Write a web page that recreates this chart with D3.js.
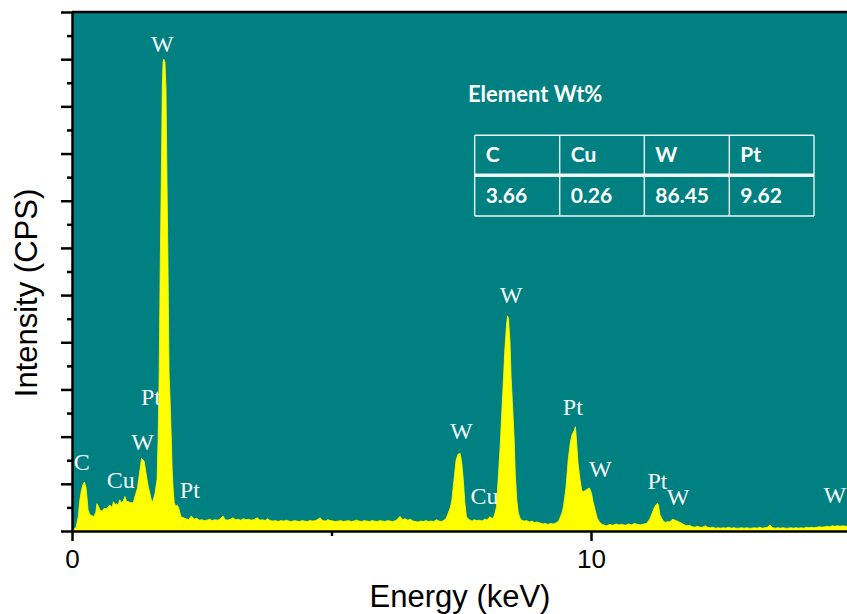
<!DOCTYPE html>
<html>
<head>
<meta charset="utf-8">
<script src="https://cdn.jsdelivr.net/npm/d3@7"></script>
<style>
  body { margin: 0; background: #fff; }
  svg { display: block; }
</style>
</head>
<body>
<svg id="canvas" width="847" height="614"></svg>
<script>
// EDS spectrum, energy (keV) vs counts
let spectrum = [
  [0.00,0],[0.03,3],[0.08,8],[0.12,30],[0.15,65],[0.18,85],[0.21,98],[0.24,104],[0.27,92],[0.29,70],
  [0.31,45],[0.34,35],[0.38,33],[0.42,30],[0.46,40],[0.48,58],[0.51,52],[0.54,44],[0.58,42],[0.62,48],
  [0.67,47],[0.70,52],[0.73,55],[0.77,50],[0.80,62],[0.83,56],[0.86,58],[0.89,55],[0.92,66],[0.95,60],
  [0.99,64],[1.02,73],[1.05,63],[1.09,62],[1.13,60],[1.18,60],[1.21,72],[1.26,90],[1.31,130],[1.34,154],
  [1.39,148],[1.43,120],[1.47,94],[1.52,70],[1.55,60],[1.60,80],[1.64,110],[1.66,200],[1.68,335],[1.70,560],
  [1.72,744],[1.74,941],[1.755,994],[1.77,1000],[1.79,994],[1.81,941],[1.83,744],[1.85,560],[1.87,335],[1.89,278],
  [1.91,208],[1.93,130],[1.95,87],[1.97,60],[2.00,52],[2.03,55],[2.06,47],[2.10,30],[2.15,28],[2.20,26],
  [2.25,24],[2.30,32],[2.35,25],[2.40,27],[2.45,23],[2.50,24],[2.55,22],[2.60,23],[2.65,25],[2.70,22],
  [2.75,24],[2.80,23],[2.85,25],[2.91,32],[2.95,24],[3.00,23],[3.05,25],[3.10,28],[3.15,24],[3.20,25],
  [3.25,23],[3.30,26],[3.35,24],[3.40,25],[3.45,23],[3.50,24],[3.57,28],[3.62,23],[3.67,24],[3.72,22],
  [3.77,26],[3.82,22],[3.87,21],[3.92,22],[3.97,20],[4.02,22],[4.08,21],[4.13,23],[4.18,21],[4.23,20],
  [4.28,22],[4.33,21],[4.38,20],[4.43,22],[4.48,21],[4.53,20],[4.58,22],[4.63,21],[4.70,22],[4.78,28],
  [4.83,22],[4.88,21],[4.93,24],[4.98,22],[5.03,21],[5.08,20],[5.13,21],[5.18,22],[5.23,20],[5.28,21],
  [5.33,22],[5.38,20],[5.43,21],[5.48,23],[5.53,21],[5.58,20],[5.63,22],[5.68,21],[5.73,20],[5.78,22],
  [5.83,21],[5.88,20],[5.93,22],[5.98,21],[6.03,20],[6.08,22],[6.13,21],[6.18,20],[6.25,23],[6.32,31],
  [6.37,24],[6.42,26],[6.47,23],[6.52,25],[6.57,21],[6.62,20],[6.67,19],[6.72,21],[6.77,20],[6.82,22],
  [6.87,20],[6.92,21],[6.97,20],[7.02,24],[7.07,21],[7.12,20],[7.17,23],[7.21,27],
  [7.25,38],[7.29,50],[7.32,66],[7.36,108],[7.40,150],[7.44,163],[7.48,164],[7.51,144],[7.54,108],[7.57,59],
  [7.60,30],[7.64,25],[7.67,23],[7.71,21],[7.75,24],[7.80,22],[7.85,23],[7.90,21],[7.95,25],[8.00,24],
  [8.05,30],[8.09,27],[8.12,28],[8.15,38],[8.18,52],[8.21,108],[8.25,179],[8.28,250],[8.31,314],[8.34,384],
  [8.37,433],[8.39,456],[8.41,452],[8.44,398],[8.46,327],[8.49,263],[8.52,193],[8.54,123],[8.57,66],[8.60,38],
  [8.63,28],[8.66,23],[8.71,21],[8.76,22],[8.81,19],[8.86,21],[8.91,18],[8.96,19],[9.02,17],
  [9.07,15],[9.12,16],[9.17,14],[9.22,16],[9.27,15],[9.32,17],[9.37,20],[9.40,27],[9.44,38],[9.47,52],
  [9.52,94],[9.56,150],[9.60,186],[9.63,203],[9.68,214],[9.70,221],[9.72,193],[9.75,144],[9.79,108],[9.82,87],
  [9.85,83],[9.89,86],[9.92,88],[9.97,91],[10.01,80],[10.04,62],[10.08,44],[10.12,27],[10.17,18],[10.22,14],
  [10.30,11],[10.36,14],[10.42,12],[10.48,15],[10.54,13],[10.60,14],[10.66,12],[10.72,15],[10.78,13],[10.84,16],
  [10.90,14],[10.95,13],[11.02,15],[11.07,16],[11.10,20],[11.14,27],[11.19,41],[11.23,52],[11.28,59],[11.30,55],
  [11.33,34],[11.38,23],[11.43,18],[11.48,20],[11.52,19],[11.57,25],[11.62,23],[11.68,20],[11.75,16],[11.84,11],
  [11.90,12],[11.95,9],[12.00,8],[12.05,10],[12.10,8],[12.15,8],[12.20,11],[12.25,8],[12.30,7],[12.35,8],
  [12.40,6],[12.45,7],[12.50,6],[12.55,7],[12.60,6],[12.65,8],[12.70,6],[12.75,7],[12.80,6],[12.85,6],
  [12.90,7],[12.95,6],[13.00,7],[13.05,6],[13.10,6],[13.15,7],[13.20,6],[13.25,8],[13.30,6],[13.35,7],
  [13.40,8],[13.45,13],[13.50,7],[13.55,6],[13.60,7],[13.65,6],[13.70,7],[13.75,6],[13.80,6],[13.85,7],
  [13.90,6],[13.95,7],[14.00,6],[14.05,7],[14.10,6],[14.15,8],[14.20,7],[14.25,8],[14.30,7],[14.35,8],
  [14.40,9],[14.45,8],[14.50,9],[14.55,10],[14.60,9],[14.65,11],[14.70,10],[14.75,11],[14.80,10],[14.85,11],
  [14.90,10],[14.95,11],[15.00,10]
]

// peak labels: text, energy (keV), counts where the label sits
let peakLabels = [
  ["C",0.19,129],["Cu",0.94,91],["W",1.36,172],["Pt",1.52,267],["W",1.74,1015],["Pt",2.27,70],
  ["W",7.50,194],["Cu",7.95,57],["W",8.46,483],["Pt",9.65,246],["W",10.18,115],
  ["Pt",11.28,90],["W",11.68,55],["W",14.70,59]
]

let tableElements = ["C","Cu","W","Pt"]
let tableWtPercent = ["3.66","0.26","86.45","9.62"]
let tableTitle = "Element Wt%"

let xMajorTicks = [0,10]
let xMinorTicks = [5]
let yMajorTicks = [0,100,200,300,400,500,600,700,800,900,1000,1100]
let yMinorTicks = [50,150,250,350,450,550,650,750,850,950,1050]

let svg = d3.select('#canvas')

let plotLeft = 72, plotRight = 847, plotTop = 12, plotBottom = 531

let xScale = d3.scaleLinear().domain([0,15]).range([plotLeft, plotLeft + 15*51.9])
let yScale = d3.scaleLinear().domain([0,1100]).range([plotBottom, plotTop])

svg.append('defs').append('clipPath')
   .attr('id','plotClip')
   .append('rect')
   .attr('x',plotLeft).attr('y',plotTop)
   .attr('width',plotRight-plotLeft).attr('height',plotBottom-plotTop)

// teal panel
svg.append('rect')
   .attr('x',plotLeft).attr('y',plotTop)
   .attr('width',plotRight-plotLeft).attr('height',plotBottom-plotTop)
   .attr('fill','#008080')

let area = d3.area()
    .x((d)=> xScale(d[0]))
    .y0(yScale(0))
    .y1((d)=> yScale(d[1]))

svg.append('path')
   .datum(spectrum)
   .attr('clip-path','url(#plotClip)')
   .attr('d',area)
   .attr('fill','#ffff00')
   .attr('stroke','#ffff00')
   .attr('stroke-width',0.8)

// peak labels
svg.append('g')
   .selectAll('text')
   .data(peakLabels)
   .enter()
   .append('text')
   .attr('x',(d)=> xScale(d[1]))
   .attr('y',(d)=> yScale(d[2]))
   .attr('text-anchor','middle')
   .attr('font-family','"Liberation Serif", "Times New Roman", serif')
   .attr('font-size',24)
   .attr('fill','#f4f8f8')
   .text((d)=> d[0])

// axes
let styleAxis = (g) => {
    g.selectAll('path,line').attr('stroke','#000').attr('stroke-width',2.5)
    g.selectAll('text').attr('font-family','"Liberation Sans", Arial, sans-serif')
       .attr('font-size',26).attr('fill','#000')
}

svg.append('g')
   .attr('transform','translate(0,'+plotBottom+')')
   .call(d3.axisBottom(xScale).tickValues(xMajorTicks).tickSize(10).tickSizeOuter(0).tickPadding(9).tickFormat(d3.format('d')))
   .call(styleAxis)

svg.append('g')
   .attr('transform','translate(0,'+plotBottom+')')
   .call(d3.axisBottom(xScale).tickValues(xMinorTicks).tickSize(5).tickFormat(''))
   .call((g)=> g.select('.domain').remove())
   .call(styleAxis)

svg.append('g')
   .attr('transform','translate('+plotLeft+',0)')
   .call(d3.axisLeft(yScale).tickValues(yMajorTicks).tickSize(11).tickSizeOuter(0).tickFormat(''))
   .call(styleAxis)

svg.append('g')
   .attr('transform','translate('+plotLeft+',0)')
   .call(d3.axisLeft(yScale).tickValues(yMinorTicks).tickSize(5).tickFormat(''))
   .call((g)=> g.select('.domain').remove())
   .call(styleAxis)

// top frame line
svg.append('line')
   .attr('x1',plotLeft).attr('x2',plotRight)
   .attr('y1',plotTop).attr('y2',plotTop)
   .attr('stroke','#000').attr('stroke-width',2.5)

// axis titles
svg.append('text')
   .attr('x',460).attr('y',607)
   .attr('text-anchor','middle')
   .attr('font-family','"Liberation Sans", Arial, sans-serif')
   .attr('font-size',31)
   .text('Energy (keV)')

svg.append('text')
   .attr('transform','translate(37,293) rotate(-90)')
   .attr('text-anchor','middle')
   .attr('font-family','"Liberation Sans", Arial, sans-serif')
   .attr('font-size',31)
   .text('Intensity (CPS)')

// composition table
let tableFont = 'Lato, "Open Sans", sans-serif'
let colX = [474.7, 559.7, 644.3, 729.3, 814]
let rowY = [135.3, 175.3, 216]

let table = svg.append('g')

table.append('text')
     .attr('x',468).attr('y',102)
     .attr('font-family',tableFont).attr('font-weight','bold')
     .attr('font-size',22).attr('fill','#fff')
     .text(tableTitle)

table.selectAll('.vline')
     .data(colX)
     .enter()
     .append('line')
     .attr('class','vline')
     .attr('x1',(d)=> d).attr('x2',(d)=> d)
     .attr('y1',rowY[0]).attr('y2',rowY[2])
     .attr('stroke','#dfe9e9').attr('stroke-width',1.5)

table.selectAll('.hline')
     .data(rowY)
     .enter()
     .append('line')
     .attr('class','hline')
     .attr('x1',colX[0]).attr('x2',colX[4])
     .attr('y1',(d)=> d).attr('y2',(d)=> d)
     .attr('stroke','#f0f5f5')
     .attr('stroke-width',(d,i)=> i === 1 ? 3.5 : 1.5)

table.selectAll('.head')
     .data(tableElements)
     .enter()
     .append('text')
     .attr('class','head')
     .attr('x',(d,i)=> colX[i] + 11)
     .attr('y',162)
     .attr('font-family',tableFont).attr('font-weight','bold')
     .attr('font-size',21).attr('fill','#fff')
     .text((d)=> d)

table.selectAll('.val')
     .data(tableWtPercent)
     .enter()
     .append('text')
     .attr('class','val')
     .attr('x',(d,i)=> colX[i] + 11)
     .attr('y',203)
     .attr('font-family',tableFont).attr('font-weight','bold')
     .attr('font-size',21).attr('fill','#fff')
     .text((d)=> d)
</script>
</body>
</html>
